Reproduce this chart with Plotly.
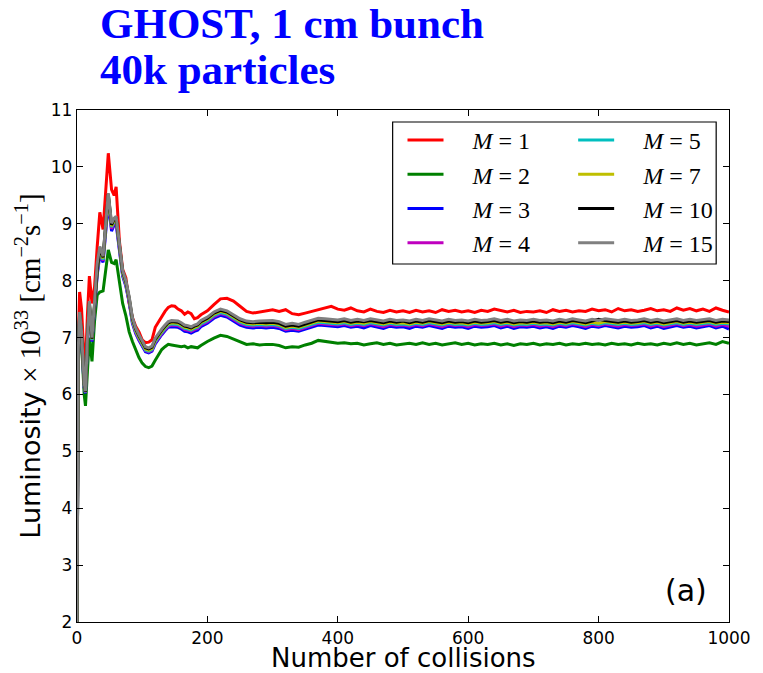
import plotly.graph_objects as go

# collision index grid (shared by all series)
x_early = [0, 2, 4, 7, 11, 13, 16, 19, 23, 27, 31, 35, 40, 44, 48, 53, 57, 60,
           65, 70, 75, 80, 85, 90, 95, 100, 105, 110, 115, 120, 125, 130, 135, 140,
           145, 150, 155, 160, 165, 170, 175, 180, 185, 190, 195, 200]
x_tail = list(range(210, 1001, 10))
collisions = x_early + x_tail

m1 = [2.0, 7.0, 7.8, 7.5, 6.6, 6.5, 7.4, 8.08, 7.6, 7.9, 8.6, 9.2, 8.9, 9.6, 10.24, 9.6, 9.5, 9.65,
      8.7, 8.2, 8.05, 7.6, 7.35, 7.2, 7.1, 6.96, 6.91, 6.92, 6.96, 7.18, 7.28, 7.38, 7.46, 7.53,
      7.56, 7.55, 7.5, 7.47, 7.41, 7.45, 7.42, 7.33, 7.35, 7.4, 7.43, 7.47,
      7.58, 7.68, 7.69, 7.64, 7.55, 7.46, 7.43, 7.45, 7.48, 7.49,
      7.46, 7.49, 7.42, 7.40, 7.43, 7.46, 7.50, 7.52, 7.55, 7.50,
      7.48, 7.52, 7.47, 7.45, 7.50, 7.46, 7.44, 7.48, 7.45, 7.47,
      7.44, 7.48, 7.45, 7.47, 7.44, 7.49, 7.46, 7.48, 7.45, 7.47,
      7.44, 7.48, 7.46, 7.50, 7.47, 7.45, 7.48, 7.44, 7.46, 7.45,
      7.47, 7.44, 7.49, 7.46, 7.48, 7.45, 7.47, 7.46, 7.50, 7.47,
      7.49, 7.45, 7.51, 7.47, 7.49, 7.46, 7.48, 7.51, 7.47, 7.49,
      7.46, 7.52, 7.48, 7.51, 7.47, 7.50, 7.46, 7.52, 7.48, 7.45]

m2 = [2.0, 6.5, 7.2, 6.9, 6.0, 5.8, 6.4, 7.0, 6.58, 7.3, 7.75, 7.8, 7.82, 8.2, 8.54, 8.32, 8.3, 8.37,
      8.0, 7.6, 7.38, 7.1, 6.93, 6.78, 6.65, 6.55, 6.49, 6.47, 6.5, 6.6, 6.7, 6.79, 6.84, 6.88,
      6.87, 6.86, 6.86, 6.84, 6.85, 6.82, 6.84, 6.83, 6.82, 6.86, 6.9, 6.93,
      6.99, 7.04, 7.02, 6.97, 6.92, 6.88, 6.89, 6.87, 6.88, 6.88,
      6.86, 6.82, 6.84, 6.83, 6.87, 6.90, 6.95, 6.93, 6.92, 6.90,
      6.91, 6.89, 6.90, 6.87, 6.89, 6.91, 6.88, 6.90, 6.87, 6.89,
      6.90, 6.88, 6.91, 6.88, 6.90, 6.87, 6.89, 6.91, 6.88, 6.90,
      6.87, 6.89, 6.88, 6.90, 6.87, 6.89, 6.86, 6.89, 6.88, 6.90,
      6.87, 6.89, 6.88, 6.90, 6.87, 6.89, 6.88, 6.90, 6.88, 6.89,
      6.87, 6.90, 6.88, 6.89, 6.87, 6.90, 6.88, 6.89, 6.87, 6.90,
      6.88, 6.91, 6.88, 6.90, 6.87, 6.89, 6.91, 6.88, 6.93, 6.90]

m3 = [2.0, 6.7, 7.35, 7.0, 6.12, 6.02, 6.9, 7.52, 6.93, 7.55, 8.1, 8.45, 8.32, 8.85, 9.38, 8.87, 8.98, 9.0,
      8.48, 8.08, 7.9, 7.62, 7.25, 7.07, 6.95, 6.84, 6.75, 6.73, 6.76, 6.89, 6.98, 7.05, 7.12, 7.18,
      7.19, 7.19, 7.18, 7.15, 7.11, 7.1, 7.08, 7.11, 7.13, 7.19, 7.22, 7.25,
      7.34, 7.39, 7.36, 7.29, 7.22, 7.18, 7.17, 7.18, 7.17, 7.18,
      7.16, 7.11, 7.13, 7.11, 7.15, 7.19, 7.22, 7.21, 7.20, 7.19,
      7.21, 7.18, 7.20, 7.17, 7.21, 7.19, 7.16, 7.20, 7.18, 7.19,
      7.16, 7.20, 7.18, 7.21, 7.19, 7.16, 7.20, 7.18, 7.19, 7.16,
      7.20, 7.18, 7.19, 7.21, 7.17, 7.20, 7.16, 7.19, 7.18, 7.20,
      7.17, 7.19, 7.16, 7.20, 7.18, 7.21, 7.19, 7.16, 7.20, 7.18,
      7.21, 7.19, 7.17, 7.20, 7.18, 7.19, 7.21, 7.17, 7.20, 7.16,
      7.19, 7.21, 7.18, 7.20, 7.17, 7.19, 7.21, 7.17, 7.20, 7.15]

m4 = [2.0, 6.72, 7.37, 7.02, 6.14, 6.03, 6.92, 7.55, 6.95, 7.58, 8.13, 8.5, 8.35, 8.9, 9.44, 8.91, 9.02, 9.04,
      8.52, 8.1, 7.92, 7.64, 7.27, 7.09, 6.97, 6.86, 6.77, 6.75, 6.78, 6.91, 7.0, 7.07, 7.14, 7.2,
      7.22, 7.22, 7.21, 7.18, 7.14, 7.13, 7.11, 7.14, 7.16, 7.22, 7.25, 7.28,
      7.37, 7.42, 7.39, 7.32, 7.25, 7.21, 7.20, 7.21, 7.20, 7.21,
      7.19, 7.14, 7.16, 7.14, 7.18, 7.22, 7.25, 7.24, 7.23, 7.22,
      7.24, 7.21, 7.23, 7.21, 7.24, 7.22, 7.19, 7.23, 7.21, 7.22,
      7.20, 7.23, 7.21, 7.24, 7.22, 7.19, 7.23, 7.21, 7.22, 7.19,
      7.23, 7.21, 7.22, 7.24, 7.20, 7.23, 7.19, 7.22, 7.21, 7.23,
      7.20, 7.22, 7.19, 7.23, 7.21, 7.24, 7.22, 7.19, 7.23, 7.21,
      7.24, 7.22, 7.20, 7.23, 7.21, 7.22, 7.24, 7.20, 7.23, 7.19,
      7.22, 7.24, 7.21, 7.23, 7.20, 7.22, 7.24, 7.20, 7.23, 7.20]

m5 = [2.0, 6.74, 7.39, 7.04, 6.15, 6.04, 6.94, 7.58, 6.96, 7.6, 8.15, 8.53, 8.37, 8.93, 9.47, 8.94, 9.04, 9.07,
      8.54, 8.12, 7.94, 7.66, 7.29, 7.11, 6.99, 6.88, 6.78, 6.76, 6.79, 6.93, 7.02, 7.09, 7.16, 7.22,
      7.24, 7.24, 7.23, 7.2, 7.16, 7.15, 7.13, 7.16, 7.18, 7.24, 7.27, 7.3,
      7.39, 7.44, 7.41, 7.34, 7.27, 7.23, 7.22, 7.23, 7.22, 7.23,
      7.21, 7.16, 7.18, 7.16, 7.20, 7.24, 7.27, 7.26, 7.25, 7.24,
      7.26, 7.23, 7.25, 7.23, 7.26, 7.24, 7.22, 7.25, 7.23, 7.24,
      7.22, 7.25, 7.23, 7.26, 7.24, 7.22, 7.25, 7.23, 7.24, 7.22,
      7.25, 7.23, 7.24, 7.26, 7.23, 7.25, 7.22, 7.24, 7.23, 7.25,
      7.23, 7.24, 7.22, 7.25, 7.23, 7.26, 7.24, 7.22, 7.25, 7.23,
      7.26, 7.24, 7.23, 7.25, 7.23, 7.24, 7.26, 7.23, 7.25, 7.22,
      7.24, 7.26, 7.23, 7.25, 7.23, 7.24, 7.26, 7.23, 7.25, 7.24]

m7 = [2.0, 6.76, 7.41, 7.06, 6.16, 6.05, 6.96, 7.6, 6.97, 7.62, 8.17, 8.56, 8.39, 8.95, 9.5, 8.96, 9.06, 9.09,
      8.56, 8.14, 7.96, 7.68, 7.31, 7.13, 7.01, 6.9, 6.8, 6.78, 6.81, 6.95, 7.04, 7.11, 7.18, 7.24,
      7.26, 7.26, 7.25, 7.22, 7.18, 7.17, 7.15, 7.18, 7.2, 7.26, 7.29, 7.32,
      7.41, 7.46, 7.43, 7.36, 7.29, 7.25, 7.24, 7.25, 7.24, 7.25,
      7.23, 7.18, 7.20, 7.18, 7.22, 7.26, 7.29, 7.28, 7.27, 7.26,
      7.28, 7.25, 7.27, 7.25, 7.28, 7.26, 7.24, 7.27, 7.25, 7.26,
      7.24, 7.27, 7.25, 7.28, 7.26, 7.24, 7.27, 7.25, 7.26, 7.24,
      7.27, 7.25, 7.26, 7.28, 7.25, 7.27, 7.24, 7.26, 7.25, 7.27,
      7.25, 7.26, 7.24, 7.27, 7.25, 7.28, 7.26, 7.24, 7.27, 7.25,
      7.28, 7.26, 7.25, 7.27, 7.25, 7.26, 7.28, 7.25, 7.27, 7.24,
      7.26, 7.28, 7.25, 7.27, 7.25, 7.26, 7.28, 7.25, 7.27, 7.26]

m10 = [2.0, 6.78, 7.43, 7.08, 6.18, 6.05, 6.98, 7.62, 6.98, 7.65, 8.18, 8.58, 8.41, 8.98, 9.52, 8.98, 9.08, 9.11,
       8.58, 8.16, 7.98, 7.7, 7.33, 7.15, 7.03, 6.92, 6.82, 6.8, 6.83, 6.97, 7.06, 7.13, 7.2, 7.26,
       7.28, 7.28, 7.27, 7.24, 7.2, 7.19, 7.17, 7.2, 7.22, 7.28, 7.31, 7.34,
       7.43, 7.48, 7.45, 7.38, 7.31, 7.27, 7.26, 7.27, 7.26, 7.27,
       7.25, 7.20, 7.22, 7.20, 7.24, 7.28, 7.31, 7.30, 7.29, 7.28,
       7.30, 7.27, 7.29, 7.28, 7.30, 7.28, 7.26, 7.29, 7.27, 7.29,
       7.26, 7.29, 7.27, 7.30, 7.28, 7.26, 7.29, 7.27, 7.28, 7.26,
       7.29, 7.27, 7.28, 7.30, 7.27, 7.29, 7.26, 7.28, 7.27, 7.29,
       7.27, 7.28, 7.26, 7.29, 7.27, 7.30, 7.28, 7.26, 7.29, 7.32,
       7.30, 7.28, 7.27, 7.29, 7.27, 7.28, 7.30, 7.27, 7.29, 7.26,
       7.28, 7.30, 7.27, 7.29, 7.27, 7.28, 7.30, 7.27, 7.29, 7.28]

m15 = [2.0, 6.8, 7.45, 7.1, 6.2, 6.06, 7.0, 7.64, 7.0, 7.7, 8.3, 8.6, 8.43, 9.0, 9.54, 9.01, 9.1, 9.13,
       8.6, 8.18, 8.0, 7.72, 7.35, 7.17, 7.05, 6.94, 6.84, 6.82, 6.85, 6.99, 7.08, 7.15, 7.22, 7.28,
       7.3, 7.3, 7.29, 7.26, 7.22, 7.21, 7.19, 7.22, 7.24, 7.3, 7.33, 7.36,
       7.45, 7.50, 7.47, 7.40, 7.33, 7.29, 7.28, 7.29, 7.29, 7.30,
       7.28, 7.23, 7.25, 7.23, 7.27, 7.31, 7.34, 7.33, 7.32, 7.31,
       7.33, 7.30, 7.32, 7.30, 7.33, 7.31, 7.29, 7.32, 7.30, 7.31,
       7.29, 7.32, 7.30, 7.33, 7.31, 7.29, 7.32, 7.30, 7.31, 7.29,
       7.32, 7.30, 7.31, 7.33, 7.30, 7.32, 7.29, 7.31, 7.30, 7.32,
       7.30, 7.31, 7.29, 7.32, 7.30, 7.33, 7.31, 7.29, 7.32, 7.30,
       7.33, 7.31, 7.30, 7.32, 7.30, 7.31, 7.33, 7.30, 7.32, 7.29,
       7.31, 7.33, 7.30, 7.32, 7.30, 7.31, 7.33, 7.30, 7.32, 7.31]

series_names = ["1", "2", "3", "4", "5", "7", "10", "15"]
series_values = [m1, m2, m3, m4, m5, m7, m10, m15]
series_colors = ["#ff0000", "#008000", "#0000ff", "#bf00bf", "#00bfbf", "#bfbf00", "#000000", "#808080"]
legend_column = ["legend", "legend", "legend", "legend", "legend2", "legend2", "legend2", "legend2"]

x_ticks = [0, 200, 400, 600, 800, 1000]
y_ticks = [2, 3, 4, 5, 6, 7, 8, 9, 10, 11]

W, H = 763, 673
ml, mr, mt, mb = 77, 25, 110, 51
pw, ph = W - ml - mr, H - mt - mb

def px(xp):
    return (xp - ml) / pw

def py(yp):
    return 1 - (yp - mt) / ph

fig = go.Figure()
nb = "\u00a0"
for name, vals, col, lg in zip(series_names, series_values, series_colors, legend_column):
    fig.add_trace(go.Scatter(
        x=collisions, y=vals, mode="lines",
        line=dict(color=col, width=3),
        name=nb * 4 + "<i>M</i>" + nb + "=" + nb + name,
        legend=lg,
    ))

axis_common = dict(
    showline=True, linecolor="black", linewidth=1.3, mirror="allticks",
    ticks="inside", ticklen=6, tickwidth=1, tickcolor="black",
    showgrid=False, zeroline=False,
    tickfont=dict(family="DejaVu Sans", size=17, color="black"),
)

legend_common = dict(
    xanchor="left", yanchor="top", orientation="v",
    bgcolor="rgba(0,0,0,0)", borderwidth=0,
    font=dict(family="Liberation Serif", size=24, color="black"),
    itemwidth=36, traceorder="normal",
)

fig.update_layout(
    width=W, height=H,
    margin=dict(l=ml, r=mr, t=mt, b=mb),
    paper_bgcolor="white", plot_bgcolor="white",
    xaxis=dict(range=[0, 1000], tickvals=x_ticks, **axis_common),
    yaxis=dict(range=[2, 11], tickvals=y_ticks, **axis_common),
    showlegend=True,
    legend=dict(x=px(407), y=py(118), **legend_common),
    legend2=dict(x=px(580), y=py(118), **legend_common),
    shapes=[dict(type="rect", xref="paper", yref="paper",
                 x0=px(397), x1=px(725), y0=py(264), y1=py(122),
                 line=dict(color="black", width=1.2), fillcolor="white", layer="above")],
    annotations=[
        dict(text="<b>GHOST, 1 cm bunch</b>", xref="paper", yref="paper",
             x=px(98), y=py(23), xanchor="left", yanchor="middle", showarrow=False,
             font=dict(family="Liberation Serif", size=43, color="#0000ff")),
        dict(text="<b>40k particles</b>", xref="paper", yref="paper",
             x=px(98), y=py(69), xanchor="left", yanchor="middle", showarrow=False,
             font=dict(family="Liberation Serif", size=43, color="#0000ff")),
        dict(text="Luminosity <span style=\"font-family:'Liberation Serif';font-size:29px\">\u00d7 10<sup>33</sup> [cm<sup>\u22122</sup>s<sup>\u22121</sup>]</span>",
             xref="paper", yref="paper", x=px(27), y=py(366), textangle=-90,
             xanchor="center", yanchor="middle", showarrow=False,
             font=dict(family="DejaVu Sans", size=27, color="black")),
        dict(text="Number of collisions", xref="paper", yref="paper",
             x=px(408), y=py(658), xanchor="center", yanchor="middle", showarrow=False,
             font=dict(family="DejaVu Sans", size=26, color="black")),
        dict(text="(a)", xref="paper", yref="paper",
             x=px(694), y=py(590), xanchor="center", yanchor="middle", showarrow=False,
             font=dict(family="DejaVu Sans", size=30, color="black")),
    ],
)

fig.write_html("out.html")
